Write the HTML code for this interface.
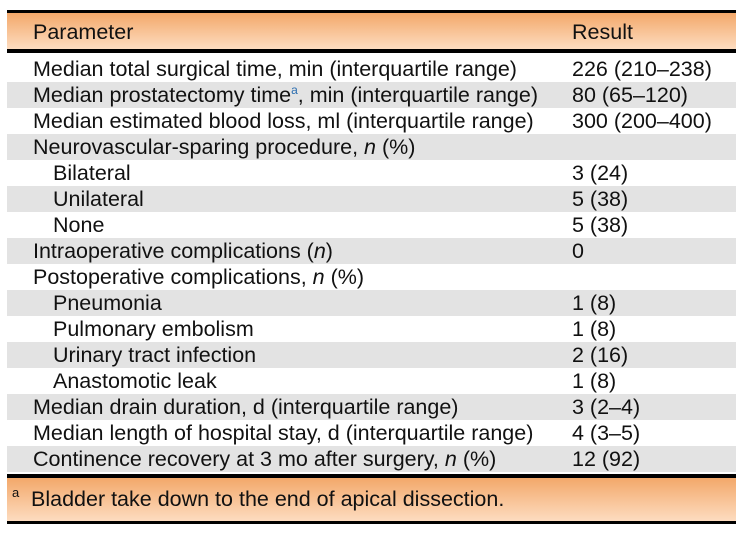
<!DOCTYPE html>
<html><head><meta charset="utf-8"><style>
body{margin:0;width:745px;height:536px;background:#fff;font-family:"Liberation Sans",sans-serif;font-size:21.5px;color:#111;position:relative;overflow:hidden}
.t{position:absolute;left:7px;width:729px}
.hdr{top:10px;height:36px;border-top:3px solid #000;border-bottom:4px solid #000;background:linear-gradient(#f3a86a,#fddcc0)}
.row{position:absolute;left:7px;width:729px;height:26px;line-height:26px}
.g{background:#e3e3e3}
.c1{position:absolute;left:26px;white-space:nowrap}
.in{left:46px}
.c2{position:absolute;left:565px;white-space:nowrap}
.ftr{top:474px;height:43px;border-top:4px solid #000;border-bottom:3px solid #000;background:linear-gradient(#f3a86a,#fddcc0)}
sup{font-size:12px;color:#2a6db0;line-height:0;vertical-align:8px}
</style></head><body>
<div class="t hdr"><span class="c1" style="top:6px;line-height:26px">Parameter</span><span class="c2" style="top:6px;line-height:26px">Result</span></div>
<div class="row" style="top:56px"><span class="c1">Median total surgical time, min (interquartile range)</span><span class="c2">226 (210–238)</span></div>
<div class="row g" style="top:82px"><span class="c1">Median prostatectomy time<sup>a</sup>, min (interquartile range)</span><span class="c2">80 (65–120)</span></div>
<div class="row" style="top:108px"><span class="c1">Median estimated blood loss, ml (interquartile range)</span><span class="c2">300 (200–400)</span></div>
<div class="row g" style="top:134px"><span class="c1">Neurovascular-sparing procedure, <i>n</i> (%)</span></div>
<div class="row" style="top:160px"><span class="c1 in">Bilateral</span><span class="c2">3 (24)</span></div>
<div class="row g" style="top:186px"><span class="c1 in">Unilateral</span><span class="c2">5 (38)</span></div>
<div class="row" style="top:212px"><span class="c1 in">None</span><span class="c2">5 (38)</span></div>
<div class="row g" style="top:238px"><span class="c1">Intraoperative complications (<i>n</i>)</span><span class="c2">0</span></div>
<div class="row" style="top:264px"><span class="c1">Postoperative complications, <i>n</i> (%)</span></div>
<div class="row g" style="top:290px"><span class="c1 in">Pneumonia</span><span class="c2">1 (8)</span></div>
<div class="row" style="top:316px"><span class="c1 in">Pulmonary embolism</span><span class="c2">1 (8)</span></div>
<div class="row g" style="top:342px"><span class="c1 in">Urinary tract infection</span><span class="c2">2 (16)</span></div>
<div class="row" style="top:368px"><span class="c1 in">Anastomotic leak</span><span class="c2">1 (8)</span></div>
<div class="row g" style="top:394px"><span class="c1">Median drain duration, d (interquartile range)</span><span class="c2">3 (2–4)</span></div>
<div class="row" style="top:420px"><span class="c1">Median length of hospital stay, d (interquartile range)</span><span class="c2">4 (3–5)</span></div>
<div class="row g" style="top:446px"><span class="c1">Continence recovery at 3 mo after surgery, <i>n</i> (%)</span><span class="c2">12 (92)</span></div>
<div class="t ftr"><span style="position:absolute;left:5px;top:7px;font-size:13px">a</span><span style="position:absolute;left:24px;top:8px;line-height:26px">Bladder take down to the end of apical dissection.</span></div>
</body></html>
